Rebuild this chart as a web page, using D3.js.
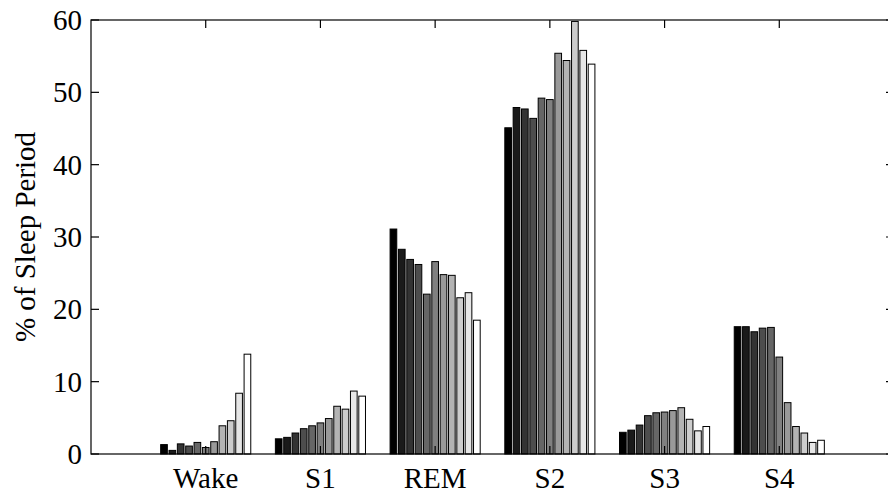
<!DOCTYPE html>
<html>
<head>
<meta charset="utf-8">
<script src="https://cdn.jsdelivr.net/npm/d3@7/dist/d3.min.js"></script>
<style>
  body { margin: 0; background: #fff; overflow: hidden; }
  svg { display: block; overflow: hidden; }
  text { font-family: "Liberation Serif", "Times New Roman", serif; fill: #000; }
</style>
</head>
<body>
<svg id="chart" width="888" height="493"></svg>
<script>
// Sleep stages on the x axis
const stages = ["Wake", "S1", "REM", "S2", "S3", "S4"];

// Percent of sleep period per stage, one value for each of the 11 groups (dark to light)
const wake = [1.3, 0.5, 1.4, 1.1, 1.6, 0.9, 1.7, 3.9, 4.6, 8.4, 13.8];
const s1   = [2.1, 2.3, 2.9, 3.5, 3.9, 4.3, 4.9, 6.6, 6.2, 8.7, 8.0];
const rem  = [31.1, 28.3, 26.9, 26.2, 22.1, 26.6, 24.8, 24.7, 21.6, 22.3, 18.5];
const s2   = [45.1, 47.9, 47.7, 46.4, 49.2, 49.0, 55.4, 54.4, 59.8, 55.8, 53.9];
const s3   = [3.0, 3.3, 4.0, 5.3, 5.7, 5.8, 6.0, 6.4, 4.8, 3.2, 3.8];
const s4   = [17.6, 17.6, 16.9, 17.4, 17.5, 13.4, 7.1, 3.8, 2.9, 1.6, 1.9];

const yTicks = [0, 10, 20, 30, 40, 50, 60];
const yLabel = "% of Sleep Period";

const stageValues = [wake, s1, rem, s2, s3, s4];
const nSeries = wake.length;

const svg = d3.select("#chart");
const box = { left: 91, right: 894, top: 20, bottom: 454 };

const x = d3.scaleLinear().domain([0, stages.length + 1]).range([box.left, box.right]);
const y = d3.scaleLinear().domain([0, 60]).range([box.bottom, box.top]);

// grey ramp from black to white across the series
const shade = d3.scaleLinear().domain([0, nSeries - 1]).range(["#000000", "#ffffff"]);

// grouped bar geometry (group spans 0.8 of a category, each bar 0.8 of its slot)
const groupWidth = 0.8;
const slot = groupWidth / nSeries;
const barW = slot * 0.8;

const bars = svg.append("g");
stageValues.forEach((vals, i) => {
  const center = i + 1;
  bars.selectAll(null)
    .data(vals)
    .enter().append("rect")
    .attr("x", (d, k) => x(center + (k - (nSeries - 1) / 2) * slot - barW / 2))
    .attr("width", (d, k) => x(barW) - x(0))
    .attr("y", d => y(d))
    .attr("height", d => y(0) - y(d))
    .attr("fill", (d, k) => shade(k))
    .attr("stroke", "#000")
    .attr("stroke-width", 1);
});

const tickLen = 8;
const fontSize = 29;
const axisG = svg.append("g").attr("stroke", "#000").attr("stroke-width", 1.2);

// y ticks on left and right, pointing inward
yTicks.forEach(t => {
  axisG.append("line").attr("x1", box.left).attr("x2", box.left + tickLen)
    .attr("y1", y(t)).attr("y2", y(t));
  axisG.append("line").attr("x1", box.right).attr("x2", box.right - tickLen)
    .attr("y1", y(t)).attr("y2", y(t));
});
// x ticks on bottom and top, pointing inward
stages.forEach((s, i) => {
  axisG.append("line").attr("x1", x(i + 1)).attr("x2", x(i + 1))
    .attr("y1", box.bottom).attr("y2", box.bottom - tickLen);
  axisG.append("line").attr("x1", x(i + 1)).attr("x2", x(i + 1))
    .attr("y1", box.top).attr("y2", box.top + tickLen);
});

// frame
svg.append("rect")
  .attr("x", box.left).attr("y", box.top)
  .attr("width", box.right - box.left).attr("height", box.bottom - box.top)
  .attr("fill", "none").attr("stroke", "#000").attr("stroke-width", 1.2);

// y tick labels
svg.append("g").selectAll("text").data(yTicks).enter().append("text")
  .attr("x", box.left - 9)
  .attr("y", d => y(d))
  .attr("text-anchor", "end")
  .attr("dominant-baseline", "central")
  .attr("font-size", fontSize)
  .text(d => d);

// x tick labels
svg.append("g").selectAll("text").data(stages).enter().append("text")
  .attr("x", (d, i) => x(i + 1))
  .attr("y", box.bottom + 34)
  .attr("text-anchor", "middle")
  .attr("font-size", fontSize)
  .text(d => d);

// y axis title
svg.append("text")
  .attr("transform", `translate(25, ${(box.top + box.bottom) / 2}) rotate(-90)`)
  .attr("text-anchor", "middle")
  .attr("dominant-baseline", "central")
  .attr("font-size", fontSize)
  .text(yLabel);
</script>
</body>
</html>
